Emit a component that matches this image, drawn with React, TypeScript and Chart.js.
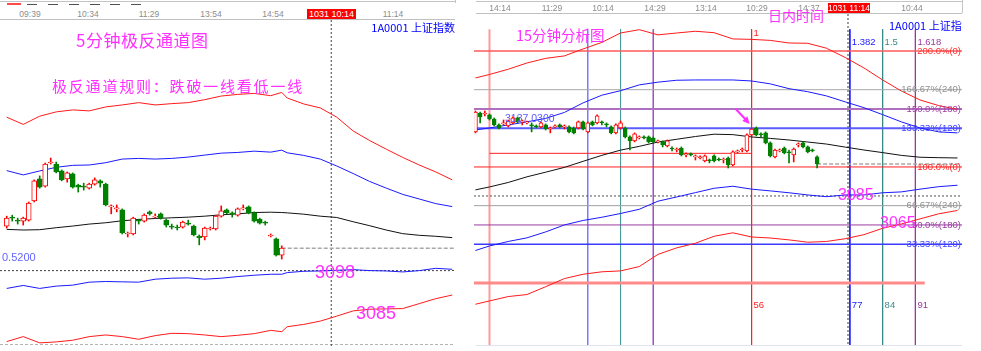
import React, { useEffect, useRef } from "react";
import { Chart, registerables } from "chart.js";

Chart.register(...registerables);

// ---------------- LEFT PANEL : 5-minute channel ----------------
const L_OPEN = [3111.5,3114.2,3113.3,3113.0,3113.3,3119.1,3125.8,3123.6,3130.6,3130.3,3128.2,3125.8,3127.3,3123.9,3123.6,3123.0,3124.2,3125.2,3124.2,3117.3,3116.7,3116.4,3109.1,3109.1,3113.3,3113.0,3115.8,3114.2,3115.2,3113.3,3111.5,3111.2,3111.2,3112.4,3111.5,3108.5,3108.2,3110.6,3110.6,3114.5,3116.4,3115.5,3114.8,3116.7,3117.3,3115.5,3113.6,3112.7,3108.5,3107.6,3102.7];
const L_HIGH = [3114.5,3114.8,3113.9,3114.2,3118.8,3125.5,3126.7,3130.6,3132.1,3130.9,3128.5,3127.9,3127.6,3124.2,3124.5,3124.5,3126.1,3125.5,3124.5,3117.9,3117.9,3116.7,3109.7,3114.2,3113.6,3115.2,3116.1,3115.2,3115.5,3113.6,3112.1,3111.8,3113.0,3113.3,3111.8,3108.8,3111.2,3111.2,3114.8,3117.6,3116.7,3115.8,3117.0,3117.9,3117.6,3115.8,3113.9,3113.0,3109.1,3107.9,3105.5];
const L_LOW = [3110.9,3113.0,3112.1,3111.8,3113.0,3118.8,3123.0,3123.3,3130.3,3127.6,3125.2,3124.8,3123.0,3121.8,3122.4,3122.7,3123.9,3123.3,3117.6,3115.2,3115.8,3109.1,3108.2,3108.8,3112.1,3112.7,3114.8,3113.9,3113.6,3111.2,3110.6,3110.3,3110.9,3111.8,3108.5,3105.8,3107.3,3110.3,3110.3,3114.2,3115.2,3114.2,3114.5,3116.4,3115.2,3112.7,3112.1,3111.8,3108.2,3102.4,3101.5];
const L_CLOSE = [3113.9,3113.9,3113.0,3113.9,3118.5,3125.2,3123.3,3130.3,3130.9,3127.9,3125.5,3127.6,3123.3,3123.3,3123.3,3124.2,3125.5,3124.5,3117.9,3117.6,3117.0,3109.4,3109.4,3113.9,3113.0,3114.8,3115.2,3114.5,3113.9,3111.8,3111.2,3110.9,3112.7,3112.1,3108.8,3107.9,3110.9,3110.9,3114.5,3116.1,3115.5,3115.2,3116.7,3117.0,3115.5,3113.0,3112.4,3112.4,3108.8,3102.7,3104.8];

const L_LINE_X = [0,3,6,9,12,15,18,21,24,27,30,33,36,39,42,45,48,50,51,54,57,60,63,66,69,72,75,78,81];
const L_UP_RED = [3144.5,3142.3,3144.8,3146.1,3146.7,3146.4,3147.6,3148.2,3148.9,3148.2,3148.6,3148.9,3149.8,3150.9,3151.4,3151.7,3151.0,3152.0,3150.3,3148.5,3147.3,3144.5,3140.3,3137.4,3134.8,3132.3,3130.0,3127.9,3125.5];
const L_UP_BLUE = [3128.3,3127.0,3128.2,3129.3,3129.9,3130.0,3130.7,3131.8,3132.0,3131.8,3132.0,3132.4,3133.0,3133.6,3133.8,3134.2,3133.9,3134.5,3133.7,3132.9,3131.8,3129.7,3127.4,3125.0,3123.0,3121.1,3119.7,3118.3,3117.4];
const L_MID = [3110.5,3110.3,3110.4,3111.0,3111.5,3112.1,3112.5,3113.1,3113.5,3113.8,3114.0,3114.2,3114.5,3114.9,3115.2,3115.6,3115.7,3115.6,3115.5,3115.1,3114.5,3114.1,3112.8,3111.6,3110.3,3109.2,3108.7,3108.4,3108.0];
const L_LOW_BLUE = [3092.6,3093.5,3092.6,3093.3,3093.6,3094.5,3094.7,3094.6,3094.5,3095.4,3095.7,3095.8,3095.4,3095.7,3096.2,3096.6,3096.9,3096.9,3097.4,3097.8,3097.9,3098.1,3098.3,3098.0,3097.9,3097.6,3098.0,3098.7,3098.4];
const L_LOW_RED = [3076.5,3078.0,3076.1,3076.4,3076.9,3078.0,3078.5,3078.0,3077.2,3078.3,3079.0,3078.9,3078.5,3078.0,3078.4,3078.9,3079.9,3079.5,3081.0,3081.7,3082.7,3084.2,3085.8,3086.3,3086.4,3086.5,3088.0,3089.5,3090.6];
const L_SUPPORT = 3098;
const L_CURSOR_INDEX = 59;
const L_TIME_LABELS = ["09:39", "10:34", "11:29", "13:54", "14:54", "11:14"];
const L_CURSOR_LABEL = "1031 10:14";

// ---------------- RIGHT PANEL : 15-minute analysis ----------------
const R_FIRST_INDEX = -3;
const R_OPEN = [3129.2,3142.2,3141.5,3140.9,3138.1,3134.0,3134.7,3133.3,3135.4,3138.8,3136.1,3135.4,3134.0,3133.3,3132.6,3134.0,3131.2,3132.6,3134.0,3132.6,3132.6,3131.9,3131.9,3136.1,3129.2,3136.1,3135.4,3136.1,3134.7,3132.6,3128.5,3131.9,3131.9,3125.7,3123.0,3125.0,3125.7,3125.7,3125.0,3122.3,3122.3,3119.5,3118.1,3116.7,3118.1,3113.3,3114.0,3111.9,3111.2,3109.2,3109.8,3112.6,3110.5,3109.8,3111.2,3106.4,3115.4,3116.7,3116.1,3127.1,3131.9,3127.8,3128.5,3121.6,3111.9,3116.1,3118.1,3115.4,3113.3,3120.2,3121.6,3118.8,3116.7,3111.9];
const R_HIGH = [3143.6,3142.9,3143.6,3141.5,3138.8,3134.7,3137.4,3137.4,3139.5,3139.5,3137.4,3136.7,3135.4,3134.0,3136.1,3134.7,3132.6,3134.0,3134.7,3134.0,3133.3,3132.6,3136.7,3136.7,3136.1,3136.7,3140.9,3136.7,3135.4,3133.3,3134.7,3136.7,3132.6,3126.4,3128.5,3126.4,3126.4,3126.4,3125.7,3123.6,3123.0,3123.6,3118.8,3118.1,3118.8,3114.7,3114.7,3113.3,3112.6,3113.3,3110.5,3113.3,3111.2,3111.2,3111.9,3116.1,3116.7,3118.1,3127.8,3131.9,3132.6,3128.5,3129.2,3122.3,3117.4,3117.4,3118.8,3116.7,3118.1,3121.6,3122.3,3119.5,3117.4,3112.6];
const R_LOW = [3128.5,3135.4,3140.2,3137.4,3133.3,3131.2,3134.0,3132.6,3134.7,3135.4,3134.0,3134.7,3129.2,3131.9,3131.9,3130.5,3128.5,3131.9,3131.9,3131.2,3128.5,3127.8,3131.2,3130.5,3128.5,3133.3,3134.7,3134.0,3132.6,3127.8,3127.8,3131.2,3125.0,3116.7,3122.3,3124.3,3124.3,3121.6,3121.6,3121.6,3118.8,3118.8,3116.1,3115.4,3112.6,3111.9,3112.6,3109.8,3110.5,3108.5,3107.8,3108.5,3109.2,3107.8,3104.3,3105.7,3114.7,3115.4,3115.4,3126.4,3126.4,3125.7,3120.9,3111.9,3111.2,3115.4,3114.0,3107.8,3108.5,3118.8,3118.1,3114.7,3115.4,3104.3];
const R_CLOSE = [3142.9,3139.5,3142.2,3138.1,3134.0,3131.9,3135.4,3136.7,3138.8,3136.1,3136.7,3136.1,3133.3,3132.6,3135.4,3131.2,3131.9,3133.3,3132.6,3133.3,3129.2,3128.5,3136.1,3131.2,3135.4,3134.0,3140.2,3135.4,3134.0,3128.5,3134.0,3135.4,3125.7,3123.0,3127.8,3125.7,3125.0,3122.3,3122.3,3123.0,3120.2,3123.0,3117.4,3117.4,3113.3,3114.0,3113.3,3112.6,3111.9,3112.6,3109.2,3109.2,3109.8,3110.5,3106.4,3115.4,3116.1,3117.4,3127.1,3131.2,3127.1,3127.1,3121.6,3112.6,3116.7,3116.7,3114.7,3114.7,3117.4,3120.9,3118.8,3115.4,3116.1,3107.1];

const R_LINE_X = [-3,0,4,8,12,16,20,24,28,32,36,40,44,48,52,56,60,64,68,72,76,80,84,88,92,96,100];
const R_UP_RED = [3166.4,3168.8,3172.4,3176.7,3179.9,3181.6,3186.4,3190.9,3197.4,3199.7,3196.1,3197.4,3198.6,3197.6,3193.3,3193.0,3192.3,3190.5,3190.3,3186.9,3180.5,3173.3,3165.0,3157.4,3151.2,3147.3,3144.7];
const R_UP_BLUE = [3130.5,3131.9,3134.0,3136.1,3138.5,3142.6,3149.2,3154.5,3157.6,3161.6,3163.5,3164.8,3165.0,3165.0,3165.0,3164.3,3162.3,3159.0,3156.9,3154.0,3149.9,3145.9,3141.1,3136.1,3131.9,3129.2,3128.5];
const R_MID = [3089.2,3091.2,3094.3,3098.2,3101.4,3104.7,3108.9,3113.0,3116.6,3119.2,3122.2,3124.1,3126.0,3127.6,3127.3,3125.7,3124.7,3123.6,3122.2,3120.8,3118.7,3116.7,3114.9,3113.0,3111.7,3111.4,3111.2];
const R_LOW_BLUE = [3047.4,3050.5,3053.6,3056.1,3060.2,3065.0,3068.1,3070.3,3072.9,3075.8,3081.4,3084.3,3087.3,3090.3,3091.7,3089.7,3088.5,3087.2,3085.7,3084.5,3085.7,3085.7,3087.2,3087.8,3089.7,3091.4,3092.4];
const R_LOW_RED = [3010.3,3012.6,3015.6,3017.0,3022.4,3028.0,3031.0,3032.7,3033.3,3036.3,3044.7,3049.2,3052.4,3057.2,3059.6,3056.7,3056.0,3054.7,3053.1,3053.6,3055.5,3058.3,3062.7,3065.7,3069.2,3072.7,3075.0];

const R_LEVEL_PRICE = [3185, 3158.3, 3145, 3131.7, 3105, 3078.3, 3065, 3051.7, 3025];
const R_LEVEL_LABEL = ["200.0%(0)", "166.67%(240)", "150.0%(180)", "133.33%(120)", "100.0%(0)", "66.67%(240)", "50.0%(180)", "33.33%(120)", ""];
const R_LEVEL_COLOR = ["#ff5a5a", "#a8a8a8", "#b070c0", "#5b5bff", "#ff2020", "#a0a0a0", "#9a3aa0", "#3b3bff", "#ff8a8a"];
const R_LEVEL_TEXT = ["#ff3030", "#909090", "#a040a0", "#4040ff", "#ff2020", "#909090", "#9a3aa0", "#4040ff", "#ff2020"];
const R_LEVEL_WIDTH = [1.5, 1, 2, 2, 1, 1, 1, 1.5, 3];
const R_ZERO_END = 93;
const R_INNER_LEVEL = 3114.4;
const R_INNER_FROM = 0;
const R_INNER_TO = 56;
const R_TARGET_LEVEL = 3085;
const R_FIB_INDEX = [0, 21, 28, 35, 56, 77, 84, 91];
const R_FIB_TOP = ["", "", "", "", "1", "1.382", "1.5", "1.618"];
const R_FIB_BOTTOM = ["", "", "", "", "56", "77", "84", "91"];
const R_FIB_COLOR = ["#ff9a9a", "#7a7aff", "#4a9a9a", "#a050c0", "#ff2020", "#2020ff", "#3a8a8a", "#9a3aa0"];
const R_FIB_WIDTH = [2, 1.5, 1, 1, 1, 1, 1, 1];
const R_FIB_TOP_PRICE = 3200;
const R_CURSOR_INDEX = 76.6;
const R_ARROW_INDEX = 56;
const R_TIME_LABELS = ["14:14", "11:29", "10:14", "14:29", "13:14", "10:29", "14:37", "10:44"];
const R_CURSOR_LABEL = "1031 11:14";

// ---------------- geometry ----------------
const L_GEO = { left: 0, top: 20, width: 455, height: 328, xMin: -1.22, xMax: 81.5, yMin: 3074.55, yMax: 3173.94 };
const R_GEO = { left: 474, top: 14, width: 488, height: 331, xMin: -3.31, xMax: 100.96, yMin: 2982.2, yMax: 3210.5 };

const RED = "#ff0000";
const GREEN = "#008000";
const SANS = '"Liberation Sans", Arial, sans-serif';
const NARROW = '"Liberation Sans Narrow", "Liberation Sans", Arial, sans-serif';
const CJK = '"Noto Sans CJK SC", "Noto Sans", sans-serif';
const MAGENTA = "#ff30ff";

function candles(xs: number[], o: number[], h: number[], l: number[], c: number[], w: number) {
  const up = c.map((v, k) => v >= o[k]);
  return [
    {
      type: "bar", data: xs.map((x, k) => ({ x, y: [l[k], h[k]] })),
      backgroundColor: up.map((u) => (u ? RED : GREEN)), barThickness: 1, grouped: false, minBarLength: 1, order: 2,
    },
    {
      type: "bar", data: xs.map((x, k) => ({ x, y: [o[k], c[k]] })),
      backgroundColor: up.map((u) => (u ? "#ffffff" : GREEN)), borderColor: up.map((u) => (u ? RED : GREEN)),
      borderWidth: 1, borderSkipped: false, barThickness: w, grouped: false, minBarLength: 1, order: 1,
    },
  ];
}

function line(pts: { x: number; y: number }[], color: string, width = 1, dash: number[] = [], order = 5) {
  return { type: "line", data: pts, borderColor: color, borderWidth: width, borderDash: dash, pointRadius: 0, fill: false, tension: 0, order };
}
const series = (xs: number[], ys: number[]) => xs.map((x, k) => ({ x, y: ys[k] }));

function baseOptions(g: typeof L_GEO) {
  return {
    responsive: false, animation: false, devicePixelRatio: 1, events: [],
    layout: { padding: 0 },
    plugins: { legend: { display: false }, tooltip: { enabled: false } },
    scales: {
      x: { type: "linear", min: g.xMin, max: g.xMax, display: false, offset: false },
      y: { type: "linear", min: g.yMin, max: g.yMax, display: false },
    },
  };
}

function leftConfig(): any {
  const xs = L_OPEN.map((_, k) => k);
  const last = xs.length - 1;
  const g = L_GEO;
  return {
    type: "bar",
    data: {
      datasets: [
        line([{ x: L_CURSOR_INDEX, y: g.yMax }, { x: L_CURSOR_INDEX, y: g.yMin }], "#404040", 1, [2, 2], 7),
        line([{ x: g.xMin, y: L_SUPPORT }, { x: 81.3, y: L_SUPPORT }], "#404040", 1, [2, 2], 6),
        line([{ x: last, y: L_CLOSE[last] }, { x: 81.3, y: L_CLOSE[last] }], "#a8a8a8", 1.5, [4, 2], 6),
        line(series(L_LINE_X, L_UP_RED), "#ff1a1a"),
        line(series(L_LINE_X, L_UP_BLUE), "#1a1aff"),
        line(series(L_LINE_X, L_MID), "#111111"),
        line(series(L_LINE_X, L_LOW_BLUE), "#1a1aff"),
        line(series(L_LINE_X, L_LOW_RED), "#ff1a1a"),
        ...candles(xs, L_OPEN, L_HIGH, L_LOW, L_CLOSE, 5),
      ],
    },
    options: baseOptions(g),
  };
}

const rightDecor = {
  id: "rightDecor",
  afterDraw(chart: any) {
    const { ctx, chartArea: a, scales } = chart;
    const xs = scales.x, ys = scales.y;
    ctx.save();
    ctx.font = `9.5px ${SANS}`;
    ctx.textBaseline = "middle";
    ctx.textAlign = "right";
    R_LEVEL_PRICE.forEach((p, k) => {
      if (!R_LEVEL_LABEL[k]) return;
      ctx.fillStyle = R_LEVEL_TEXT[k];
      ctx.fillText(R_LEVEL_LABEL[k], a.right - 1, ys.getPixelForValue(p));
    });
    ctx.textAlign = "left";
    R_FIB_INDEX.forEach((idx, k) => {
      const px = xs.getPixelForValue(idx) + 2;
      ctx.fillStyle = R_FIB_COLOR[k];
      if (R_FIB_TOP[k]) ctx.fillText(R_FIB_TOP[k], px, a.top + (R_FIB_TOP[k] === "1" ? 19 : 28));
      if (R_FIB_BOTTOM[k]) ctx.fillText(R_FIB_BOTTOM[k], px, a.top + 291);
    });
    // arrow pointing at the breakout candle
    const ai = R_ARROW_INDEX - R_FIRST_INDEX;
    const tx = xs.getPixelForValue(R_ARROW_INDEX - 0.4);
    const ty = ys.getPixelForValue(R_HIGH[ai]) - 4;
    const sx = tx - 14, sy = ty - 15;
    ctx.strokeStyle = MAGENTA;
    ctx.fillStyle = MAGENTA;
    ctx.lineWidth = 2;
    ctx.beginPath();
    ctx.moveTo(sx, sy);
    ctx.lineTo(tx - 4, ty - 4.5);
    ctx.stroke();
    const ang = Math.atan2(ty - sy, tx - sx);
    ctx.beginPath();
    ctx.moveTo(tx, ty);
    ctx.lineTo(tx - 8 * Math.cos(ang - 0.45), ty - 8 * Math.sin(ang - 0.45));
    ctx.lineTo(tx - 8 * Math.cos(ang + 0.45), ty - 8 * Math.sin(ang + 0.45));
    ctx.closePath();
    ctx.fill();
    ctx.restore();
  },
};

function rightConfig(): any {
  const g = R_GEO;
  const xs = R_OPEN.map((_, k) => k + R_FIRST_INDEX);
  const last = xs.length - 1;
  const levels = R_LEVEL_PRICE.map((p, k) =>
    line([{ x: g.xMin, y: p }, { x: k === R_LEVEL_PRICE.length - 1 ? R_ZERO_END : g.xMax, y: p }], R_LEVEL_COLOR[k], R_LEVEL_WIDTH[k], [], 6)
  );
  const fibs = R_FIB_INDEX.map((idx, k) =>
    line([{ x: idx, y: R_FIB_TOP_PRICE }, { x: idx, y: g.yMin }], R_FIB_COLOR[k], R_FIB_WIDTH[k], [], 7)
  );
  return {
    type: "bar",
    data: {
      datasets: [
        ...fibs,
        line([{ x: R_CURSOR_INDEX, y: g.yMax }, { x: R_CURSOR_INDEX, y: g.yMin }], "#404040", 1, [2, 2], 7),
        ...levels,
        line([{ x: R_INNER_FROM, y: R_INNER_LEVEL }, { x: R_INNER_TO, y: R_INNER_LEVEL }], "#ff2020", 1, [], 6),
        line([{ x: g.xMin, y: R_TARGET_LEVEL }, { x: g.xMax, y: R_TARGET_LEVEL }], "#505050", 1, [2, 2], 6),
        line([{ x: xs[last], y: R_CLOSE[last] }, { x: 100.6, y: R_CLOSE[last] }], "#a8a8a8", 1.5, [4, 2], 6),
        line(series(R_LINE_X, R_UP_RED), "#ff1a1a"),
        line(series(R_LINE_X, R_UP_BLUE), "#1a1aff"),
        line(series(R_LINE_X, R_MID), "#111111"),
        line(series(R_LINE_X, R_LOW_BLUE), "#1a1aff"),
        line(series(R_LINE_X, R_LOW_RED), "#ff1a1a"),
        ...candles(xs, R_OPEN, R_HIGH, R_LOW, R_CLOSE, 4),
      ],
    },
    options: baseOptions(g),
    plugins: [rightDecor],
  };
}

// ---------------- layout helpers ----------------
function Txt(p: { x: number; y: number; s: string; size: number; color: string; font?: string; ls?: number; align?: "left" | "center" | "right" }) {
  const lh = p.size + 4;
  const tr = p.align === "center" ? "translateX(-50%)" : p.align === "right" ? "translateX(-100%)" : undefined;
  return (
    <div style={{ position: "absolute", left: p.x, top: p.y - lh / 2, fontSize: p.size, lineHeight: `${lh}px`, color: p.color, whiteSpace: "nowrap", fontFamily: p.font || SANS, letterSpacing: p.ls, transform: tr }}>
      {p.s}
    </div>
  );
}
const Rule = (p: { x: number; y: number; w: number; h: number; style: React.CSSProperties }) => (
  <div style={{ position: "absolute", left: p.x, top: p.y, width: p.w, height: p.h, ...p.style }} />
);

const L_TIME_PX = [30, 88, 149, 211, 273, 393];
const R_TIME_PX = [500, 552, 603, 655, 706, 757, 809, 912];
const L_TAB_PX = [27, 48, 69, 90, 110, 131];

export default function App() {
  const lRef = useRef<HTMLCanvasElement>(null);
  const rRef = useRef<HTMLCanvasElement>(null);
  useEffect(() => {
    const l = new Chart(lRef.current as HTMLCanvasElement, leftConfig());
    const r = new Chart(rRef.current as HTMLCanvasElement, rightConfig());
    return () => {
      l.destroy();
      r.destroy();
    };
  }, []);

  return (
    <div style={{ position: "fixed", left: 0, top: 0, width: 981, height: 351, background: "#ffffff", overflow: "hidden" }}>
      {/* left frame */}
      <Rule x={0} y={1} w={455} h={0} style={{ borderTop: "1px solid #c4c4c4" }} />
      <Rule x={455} y={0} w={0} h={3} style={{ borderLeft: "1px solid #c4c4c4" }} />
      <Rule x={7} y={3} w={14} h={2} style={{ background: "#ff4a4a" }} />
      {L_TAB_PX.map((x) => (
        <Rule key={x} x={x} y={4} w={10} h={1} style={{ background: "#505050" }} />
      ))}
      <Rule x={0} y={19} w={455} h={0} style={{ borderTop: "1px solid #c0c0c0" }} />
      <Rule x={0} y={344} w={453} h={0} style={{ borderTop: "1px dashed #b4b4b4" }} />
      {/* right frame */}
      <Rule x={476} y={1} w={486} h={0} style={{ borderTop: "1px solid #c4c4c4" }} />
      <Rule x={962} y={0} w={0} h={13} style={{ borderLeft: "1px solid #c4c4c4" }} />
      <Rule x={476} y={13} w={486} h={0} style={{ borderTop: "1px solid #c0c0c0" }} />
      <Rule x={476} y={345} w={486} h={0} style={{ borderTop: "1px solid #e2e2ee" }} />

      <canvas ref={lRef} width={L_GEO.width} height={L_GEO.height} style={{ position: "absolute", left: L_GEO.left, top: L_GEO.top, width: L_GEO.width, height: L_GEO.height }} />
      <canvas ref={rRef} width={R_GEO.width} height={R_GEO.height} style={{ position: "absolute", left: R_GEO.left, top: R_GEO.top, width: R_GEO.width, height: R_GEO.height }} />

      {/* left texts */}
      {L_TIME_LABELS.map((s, k) => (
        <Txt key={s} x={L_TIME_PX[k]} y={14} s={s} size={8.5} color="#8c8c8c" align="center" />
      ))}
      <div style={{ position: "absolute", left: 307, top: 9, width: 49, height: 10, background: "#ff0000", color: "#fff", fontSize: 9, lineHeight: "10px", textAlign: "center", fontFamily: SANS, whiteSpace: "nowrap" }}>{L_CURSOR_LABEL}</div>
      <Txt x={455} y={27} s="1A0001  上证指数" size={11} color="#0000ff" font={CJK} align="right" />
      <Txt x={76} y={39} s="5分钟极反通道图" size={17} color={MAGENTA} font={CJK} ls={0.5} />
      <Txt x={52} y={85} s="极反通道规则：跌破一线看低一线" size={15} color={MAGENTA} font={CJK} ls={1.8} />
      <Txt x={2} y={257} s="0.5200" size={11} color="#6464ff" />
      <Txt x={315} y={272} s="3098" size={18} color={MAGENTA} font={NARROW} />
      <Txt x={356} y={313} s="3085" size={18} color={MAGENTA} font={NARROW} />

      {/* right texts */}
      {R_TIME_LABELS.map((s, k) => (
        <Txt key={s + k} x={R_TIME_PX[k]} y={8} s={s} size={8.5} color="#8c8c8c" align="center" />
      ))}
      <div style={{ position: "absolute", left: 828, top: 3, width: 42, height: 10, background: "#ff0000", color: "#fff", fontSize: 8.5, lineHeight: "10px", textAlign: "center", fontFamily: SANS, whiteSpace: "nowrap" }}>{R_CURSOR_LABEL}</div>
      <div style={{ position: "absolute", left: 476, top: 14, width: 486, height: 24, overflow: "hidden" }}>
        <Txt x={413} y={11} s="1A0001  上证指数" size={11} color="#0000ff" font={CJK} />
      </div>
      <Txt x={768} y={15} s="日内时间" size={14} color={MAGENTA} font={CJK} />
      <Txt x={516} y={35} s="15分钟分析图" size={14.5} color={MAGENTA} font={CJK} />
      <Txt x={505} y={118} s="3137.0300" size={10.5} color="#5a5aff" />
      <Txt x={838} y={195} s="3085" size={16} color={MAGENTA} font={NARROW} />
      <Txt x={880} y={223} s="3065" size={16} color={MAGENTA} font={NARROW} />
    </div>
  );
}
